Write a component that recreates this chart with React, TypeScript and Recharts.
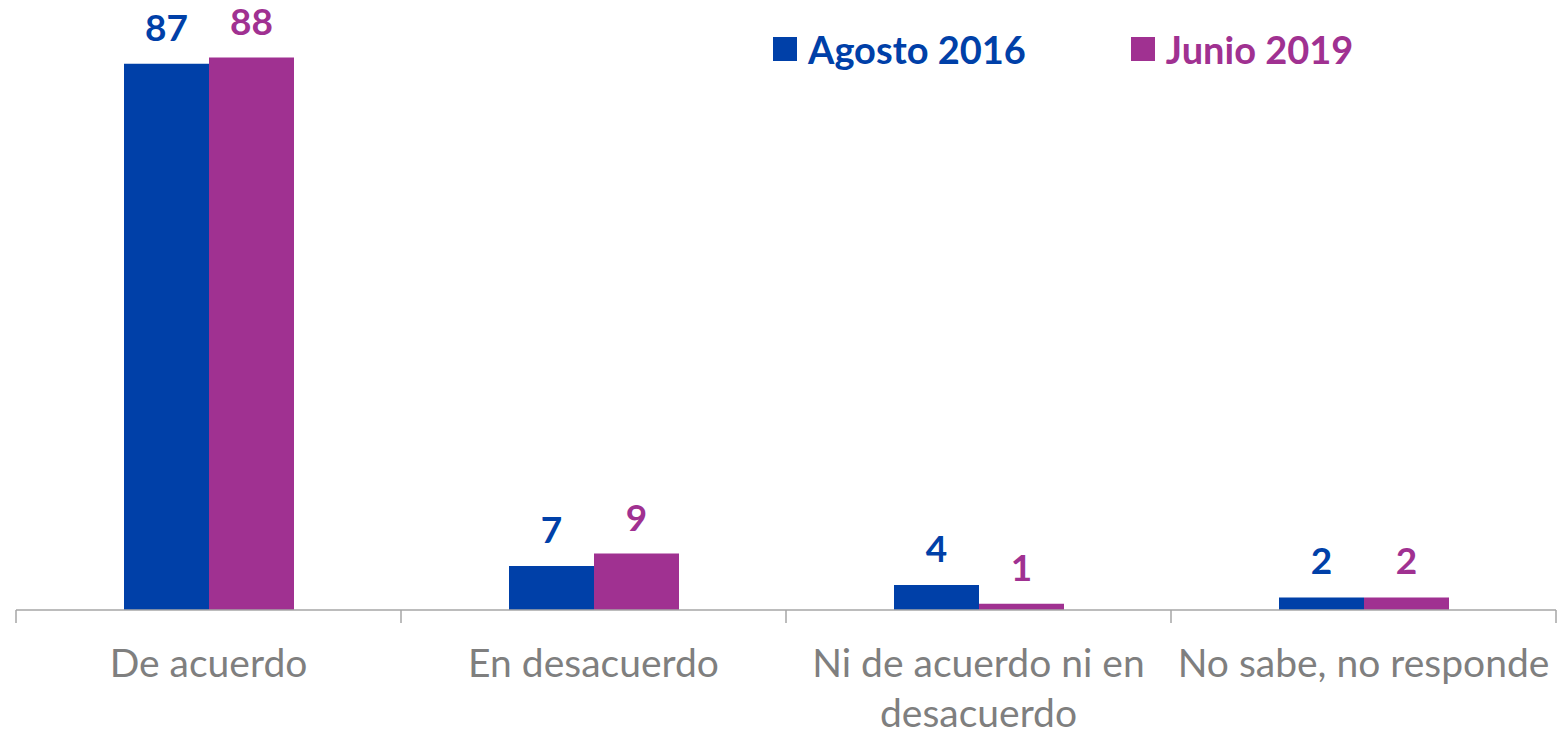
import { Bar, BarChart, LabelList, XAxis, YAxis } from "recharts";

const categories = [
  "De acuerdo",
  "En desacuerdo",
  "Ni de acuerdo ni en desacuerdo",
  "No sabe, no responde",
];
const agosto2016 = [87, 7, 4, 2];
const junio2019 = [88, 9, 1, 2];

const BLUE = "#0040A8";
const PURPLE = "#A03191";
const GREY = "#7F7F7F";
const AXIS = "#A6A6A6";
const FONT = "Lato, sans-serif";

const series = [
  { key: "agosto", name: "Agosto 2016", color: BLUE },
  { key: "junio", name: "Junio 2019", color: PURPLE },
];

const data = categories.map((c, i) => ({
  name: c,
  agosto: agosto2016[i],
  junio: junio2019[i],
}));

let ctx: CanvasRenderingContext2D | null = null;
function wrap(text: string, maxWidth: number, font: string) {
  if (!ctx) ctx = document.createElement("canvas").getContext("2d");
  if (!ctx) return [text];
  ctx.font = font;
  const words = text.split(" ");
  const lines: string[] = [];
  let cur = "";
  for (const w of words) {
    const test = cur ? cur + " " + w : w;
    if (cur && ctx.measureText(test).width > maxWidth) {
      lines.push(cur);
      cur = w;
    } else {
      cur = test;
    }
  }
  if (cur) lines.push(cur);
  return lines;
}

// label plus tick marks at the category edges (like Excel's "between" ticks)
function CategoryTick(props: any) {
  const { x, y, payload, index, width, visibleTicksCount } = props;
  const half = width / visibleTicksCount / 2;
  const lines = wrap(payload.value, 375, `39px ${FONT}`);
  const last = index === visibleTicksCount - 1;
  return (
    <g>
      <line x1={x - half} x2={x - half} y1={y} y2={y + 13} stroke={AXIS} strokeWidth={1.5} />
      {last && (
        <line x1={x + half} x2={x + half} y1={y} y2={y + 13} stroke={AXIS} strokeWidth={1.5} />
      )}
      <text
        x={x}
        y={y + 67}
        textAnchor="middle"
        fontSize={39}
        fill={GREY}
        fontFamily={FONT}
      >
        {lines.map((l, i) => (
          <tspan key={i} x={x} dy={i === 0 ? 0 : 50}>
            {l}
          </tspan>
        ))}
      </text>
    </g>
  );
}

export default function App() {
  return (
    <div
      style={{
        position: "absolute",
        left: 0,
        top: 0,
        width: 1560,
        height: 735,
        fontFamily: FONT,
        background: "#fff",
      }}
    >
      <BarChart
        width={1560}
        height={735}
        data={data}
        margin={{ top: 45, right: 4, left: 16, bottom: 0 }}
        barGap={0}
        barSize={85}
      >
        <YAxis hide domain={[0, 90]} />
        <XAxis
          dataKey="name"
          axisLine={{ stroke: AXIS, strokeWidth: 1.5 }}
          tickLine={false}
          tickSize={0}
          tickMargin={0}
          height={125}
          interval={0}
          tick={<CategoryTick />}
        />
        {series.map((s) => (
          <Bar
            key={s.key}
            dataKey={s.key}
            name={s.name}
            fill={s.color}
            isAnimationActive={false}
          >
            <LabelList
              dataKey={s.key}
              position="top"
              offset={23}
              fill={s.color}
              fontSize={37}
              fontWeight={700}
            />
          </Bar>
        ))}
      </BarChart>
      <div
        style={{
          position: "absolute",
          top: 26,
          left: 773,
          display: "flex",
          alignItems: "center",
          fontWeight: 700,
          fontSize: 38,
        }}
      >
        {series.map((s, i) => (
          <div
            key={s.key}
            style={{
              display: "flex",
              alignItems: "center",
              color: s.color,
              marginRight: i === 0 ? 105 : 0,
            }}
          >
            <span
              style={{
                display: "inline-block",
                width: 24,
                height: 24,
                background: s.color,
                marginRight: 11,
              }}
            />
            {s.name}
          </div>
        ))}
      </div>
    </div>
  );
}
